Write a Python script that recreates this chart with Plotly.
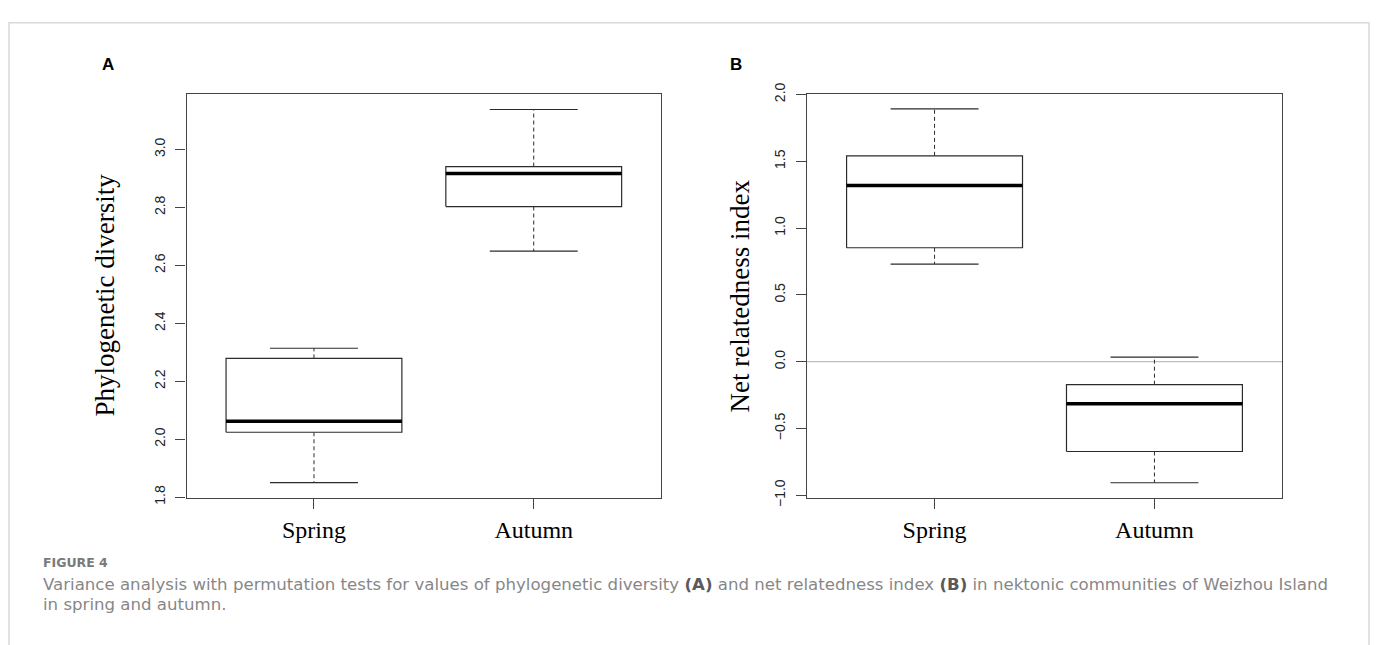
import plotly.graph_objects as go

# ---------------- data ----------------
categories = ["Spring", "Autumn"]

# Panel A: phylogenetic diversity (box-plot statistics)
pd_lower = [1.850, 2.649]
pd_q1 = [2.024, 2.803]
pd_median = [2.062, 2.917]
pd_q3 = [2.279, 2.941]
pd_upper = [2.314, 3.138]
pd_ticks = [1.8, 2.0, 2.2, 2.4, 2.6, 2.8, 3.0]

# Panel B: net relatedness index
nri_lower = [0.730, -0.906]
nri_q1 = [0.853, -0.672]
nri_median = [1.319, -0.314]
nri_q3 = [1.541, -0.172]
nri_upper = [1.893, 0.034]
nri_ticks = [-1.0, -0.5, 0.0, 0.5, 1.0, 1.5, 2.0]
nri_reference = 0.0

W, H = 1376, 645
fig = go.Figure()

BOX_HALF = 0.4
CAP_HALF = 0.2
LINE_COL = "#2b2b2b"

# zero reference line in panel B (drawn first so it sits below the boxes)
fig.add_trace(go.Scatter(x=[0.42, 2.58], y=[nri_reference, nri_reference], mode="lines",
                         line=dict(color="#bfbfbf", width=1.2), xaxis="x2", yaxis="y2",
                         showlegend=False, hoverinfo="skip", cliponaxis=True))


def add_panel(xa, ya, lower, q1, med, q3, upper):
    for i, cat in enumerate(categories):
        xc = i + 1
        # whiskers (dashed)
        fig.add_trace(go.Scatter(x=[xc, xc], y=[q3[i], upper[i]], mode="lines",
                                 line=dict(color=LINE_COL, width=1, dash="4px,3px"),
                                 xaxis=xa, yaxis=ya, showlegend=False, hoverinfo="skip"))
        fig.add_trace(go.Scatter(x=[xc, xc], y=[q1[i], lower[i]], mode="lines",
                                 line=dict(color=LINE_COL, width=1, dash="4px,3px"),
                                 xaxis=xa, yaxis=ya, showlegend=False, hoverinfo="skip"))
        # caps
        for v in (upper[i], lower[i]):
            fig.add_trace(go.Scatter(x=[xc - CAP_HALF, xc + CAP_HALF], y=[v, v], mode="lines",
                                     line=dict(color=LINE_COL, width=1.2),
                                     xaxis=xa, yaxis=ya, showlegend=False, hoverinfo="skip"))
        # box
        fig.add_trace(go.Scatter(
            x=[xc - BOX_HALF, xc + BOX_HALF, xc + BOX_HALF, xc - BOX_HALF, xc - BOX_HALF],
            y=[q1[i], q1[i], q3[i], q3[i], q1[i]], mode="lines", fill="toself",
            fillcolor="white", line=dict(color=LINE_COL, width=1.2),
            xaxis=xa, yaxis=ya, showlegend=False, name=cat))
        # median
        fig.add_trace(go.Scatter(x=[xc - BOX_HALF, xc + BOX_HALF], y=[med[i], med[i]], mode="lines",
                                 line=dict(color="black", width=3.5),
                                 xaxis=xa, yaxis=ya, showlegend=False, hoverinfo="skip"))


add_panel("x", "y", pd_lower, pd_q1, pd_median, pd_q3, pd_upper)
add_panel("x2", "y2", nri_lower, nri_q1, nri_median, nri_q3, nri_upper)

ydom = [1 - 502.3 / H, 1 - 85.5 / H]
axis_common = dict(showline=True, mirror=True, linecolor="#444444", linewidth=1.2,
                   ticks="outside", ticklen=10, tickcolor="#444444", tickwidth=1,
                   showgrid=False, zeroline=False)
xcommon = dict(axis_common, tickmode="array", tickvals=[1, 2], ticktext=categories,
               range=[0.42, 2.58],
               tickfont=dict(family="Liberation Serif, Times New Roman, serif", size=24,
                             color="black"),
               ticklabelstandoff=0)
ycommon = dict(axis_common, tickangle=-90, tickformat=".1f", ticklabelstandoff=5,
               tickfont=dict(family="Liberation Sans, Arial, sans-serif", size=14,
                             color="#222222"))

fig.update_layout(
    width=W, height=H, autosize=False,
    margin=dict(l=0, r=0, t=0, b=0),
    paper_bgcolor="white", plot_bgcolor="white",
    xaxis=dict(xcommon, domain=[186.5 / W, 661.2 / W], anchor="y"),
    yaxis=dict(ycommon, domain=ydom, range=[1.798, 3.192], tickvals=pd_ticks, anchor="x"),
    xaxis2=dict(xcommon, domain=[807.0 / W, 1282.0 / W], anchor="y2"),
    yaxis2=dict(ycommon, domain=ydom, range=[-1.018, 2.005], tickvals=nri_ticks, anchor="x2"),
)

# outer light-gray frame
fig.add_shape(type="rect", xref="paper", yref="paper",
              x0=9 / W, x1=1369 / W, y0=-0.1, y1=1 - 12 / H,
              line=dict(color="#d9d9d9", width=1.5), fillcolor="rgba(0,0,0,0)")

serif = "Liberation Serif, Times New Roman, serif"
ann = []
# axis titles
ann.append(dict(text="Phylogenetic diversity", x=105 / W, y=1 - 293.5 / H, xref="paper",
                yref="paper", textangle=-90, showarrow=False,
                font=dict(family=serif, size=27, color="black"), xanchor="center",
                yanchor="middle"))
ann.append(dict(text="Net relatedness index", x=740 / W, y=1 - 293.5 / H, xref="paper",
                yref="paper", textangle=-90, showarrow=False,
                font=dict(family=serif, size=27, color="black"), xanchor="center",
                yanchor="middle"))
# panel letters
for lab, xp in (("A", 107.7), ("B", 736)):
    ann.append(dict(text="<b>" + lab + "</b>", x=xp / W, y=1 - 55 / H, xref="paper",
                    yref="paper", showarrow=False, xanchor="center", yanchor="middle",
                    font=dict(family="Liberation Sans, Arial, sans-serif", size=17,
                              color="black")))
# caption
cap_font = "DejaVu Sans, Open Sans, sans-serif"
ann.append(dict(text="<b>FIGURE 4</b>", x=40.5 / W, y=1 - 569 / H, xref="paper", yref="paper",
                showarrow=False, xanchor="left", yanchor="middle",
                font=dict(family=cap_font, size=12.5, color="#7a7a7a")))
bold = '<b><span style="color:#5a5a5a">%s</span></b>'
line1 = ("Variance analysis with permutation tests for values of phylogenetic diversity "
         + bold % "(A)" + " and net relatedness index " + bold % "(B)"
         + " in nektonic communities of Weizhou Island")
ann.append(dict(text=line1, x=40.5 / W, y=1 - 591.5 / H, xref="paper", yref="paper",
                showarrow=False, xanchor="left", yanchor="middle",
                font=dict(family=cap_font, size=16.6, color="#878787")))
ann.append(dict(text="in spring and autumn.", x=40.5 / W, y=1 - 612.5 / H, xref="paper",
                yref="paper", showarrow=False, xanchor="left", yanchor="middle",
                font=dict(family=cap_font, size=16.6, color="#878787")))
fig.update_layout(annotations=ann)

fig.write_html("out.html")
